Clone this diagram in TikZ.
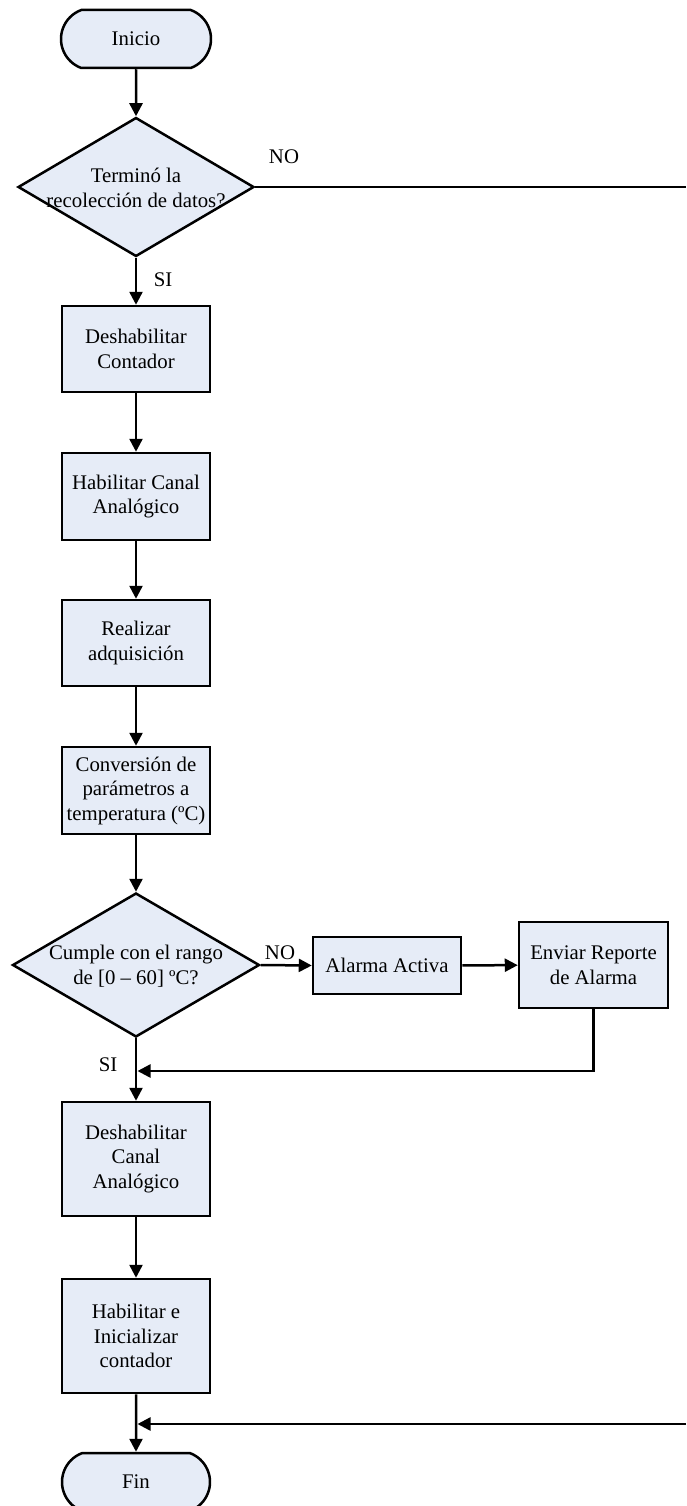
\documentclass[tikz,border=0pt]{standalone}
\usepackage{fontspec}
\setmainfont{Liberation Serif}
\usetikzlibrary{shapes.geometric,shapes.misc,arrows.meta}
\definecolor{boxfill}{RGB}{230,236,247}
\tikzset{
  base/.style={draw=black, fill=boxfill, line width=2.5pt, inner sep=0pt},
  txt/.style={font=\fontsize{20.8}{24.5}\selectfont, align=center, inner sep=0pt},
  proc/.style={base, txt, rectangle, minimum width=148pt},
  term/.style={base, txt, rounded rectangle, rounded rectangle arc length=140,
    minimum width=150pt, minimum height=58pt},
  dec/.style={base, diamond},
  lbl/.style={txt},
  conn/.style={line width=2.5pt, draw=black},
  arr/.style={conn, -{Triangle[length=13pt,width=13pt]}}
}
\begin{document}
\begin{tikzpicture}[x=1pt, y=-1pt]
\useasboundingbox (0,0) rectangle (686,1506);

% main column
\node[term] (ini) at (136,39) {Inicio};
\node[dec, minimum width=236pt, minimum height=139pt] (d1) at (136,187) {};
\node[txt] (d1t) at (136,188) {Terminó la\\recolección de datos?};
\node[proc, minimum height=86pt] (b1) at (136,349) {Deshabilitar\\Contador};
\node[proc, minimum height=87pt] (b2) at (136,496.5) {Habilitar Canal\\Analógico};
\node[proc, minimum height=86pt] (b3) at (136,643) {Realizar\\adquisición};
\node[proc, minimum height=87pt] (b4) at (136,790.5) {Conversión de\\parámetros a\\temperatura (ºC)};
\node[dec, minimum width=247pt, minimum height=144pt] (d2) at (136,965) {};
\node[txt] (d2t) at (136,966) {Cumple con el rango\\de [0 – 60] ºC?};
\node[proc, minimum height=114pt] (b5) at (136,1159) {Deshabilitar\\Canal\\Analógico};
\node[proc, minimum height=114pt] (b6) at (136,1336) {Habilitar e\\Inicializar\\contador};
\node[term, minimum width=148pt] (fin) at (136,1482) {Fin};

% alarm branch
\node[proc, minimum height=57pt] (alarm) at (387,965.5) {Alarma Activa};
\node[proc, minimum width=149pt, minimum height=86pt] (env) at (593.5,965) {Enviar Reporte\\de Alarma};

% branch labels
\node[lbl] (no1) at (284,157) {NO};
\node[lbl] (si1) at (163,280) {SI};
\node[lbl] (no2) at (280,953) {NO};
\node[lbl] (si2) at (108,1065) {SI};

% free ends and junctions
\coordinate (rtop) at (686,187);
\coordinate (rbot) at (686,1424);
\coordinate (jA) at (137.5,1071);
\coordinate (jB) at (137.5,1424);

% connectors
\draw[arr] (ini) -- (d1);
\draw[conn] (d1.east) -- (rtop);
\draw[arr] (d1) -- (b1);
\draw[arr] (b1) -- (b2);
\draw[arr] (b2) -- (b3);
\draw[arr] (b3) -- (b4);
\draw[arr] (b4) -- (d2);
\draw[arr] (d2.east) -- (alarm.west);
\draw[arr] (alarm) -- (env);
\draw[arr] (env.south) |- (jA);
\draw[arr] (d2) -- (b5);
\draw[arr] (b5) -- (b6);
\draw[arr] (b6) -- (fin);
\draw[arr] (rbot) -- (jB);
\end{tikzpicture}
\end{document}
